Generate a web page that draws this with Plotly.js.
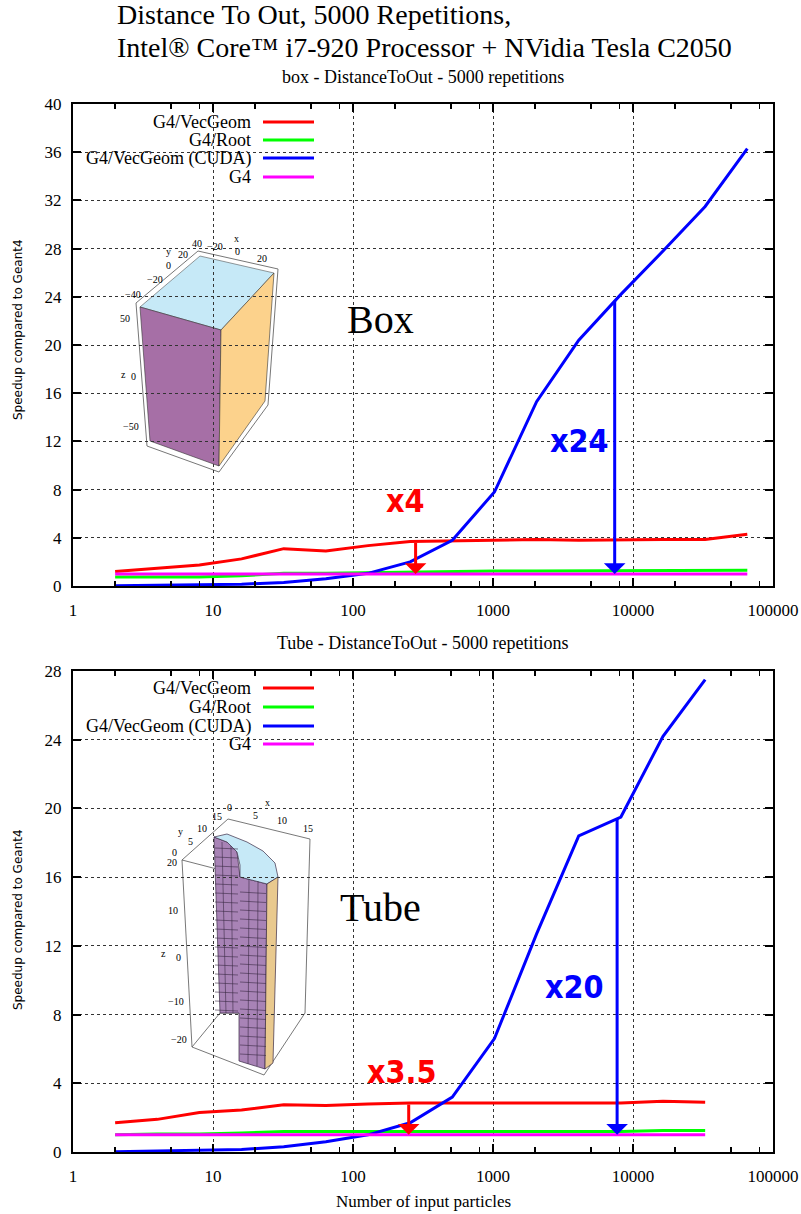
<!DOCTYPE html>
<html>
<head>
<meta charset="utf-8">
<script src="https://cdn.plot.ly/plotly-3.0.1.min.js"></script>
<style>html,body{margin:0;padding:0;background:#fff;}</style>
</head>
<body>
<div id="chart" style="width:801px;height:1214px;"></div>
<script>
// ---------------- DATA ----------------
const seriesNames = ["G4/VecGeom", "G4/Root", "G4/VecGeom (CUDA)", "G4"];
const seriesColors = ["#ff0000", "#00ff00", "#0000ff", "#ff00ff"];

const boxParticles = [2,4,8,16,32,64,128,256,512,1024,2048,4096,8192,16384,32768,65536];
const boxVecGeom   = [1.2,1.5,1.75,2.25,3.1,2.9,3.35,3.7,3.75,3.85,3.85,3.8,3.85,3.85,3.85,4.3];
const boxRoot      = [0.75,0.75,0.75,0.85,1.05,1.05,1.1,1.2,1.2,1.25,1.25,1.25,1.25,1.3,1.3,1.3];
const boxCuda      = [0.02,0.05,0.1,0.15,0.3,0.6,1.05,2.0,3.8,7.8,15.3,20.4,24.2,27.8,31.5,36.3];
const boxG4        = [1,1,1,1,1,1,1,1,1,1,1,1,1,1,1,1];

const tubeParticles = [2,4,8,16,32,64,128,256,512,1024,2048,4096,8192,16384,32768];
const tubeVecGeom   = [1.7,1.9,2.3,2.45,2.75,2.7,2.8,2.85,2.85,2.85,2.85,2.85,2.85,2.95,2.9];
const tubeRoot      = [1.0,1.05,1.05,1.1,1.2,1.2,1.2,1.2,1.2,1.2,1.2,1.2,1.2,1.25,1.25];
const tubeCuda      = [0.02,0.05,0.08,0.15,0.3,0.6,1.0,1.7,3.2,6.6,12.7,18.4,19.5,24.2,27.5];
const tubeG4        = [1,1,1,1,1,1,1,1,1,1,1,1,1,1,1];

const xTickVals  = [1,10,100,1000,10000,100000];
const xTickText  = ["1","10","100","1000","10000","100000"];
const xMinorVals = [2,5,8,20,50,80,200,500,800,2000,5000,8000,20000,50000,80000];

// speedup call-outs: [particles, from, to, label]
const boxCallouts  = [[280, 3.7, 1.0, "x4"], [7400, 23.8, 1.0, "x24"]];
const tubeCallouts = [[250, 2.85, 1.0, "x3.5"], [7700, 19.5, 1.0, "x20"]];

// ---------------- HELPERS (pixel -> paper) ----------------
const L = 73, R = 773, T = 104, B = 1152;
const px = x => (x - L) / (R - L);
const py = y => (B - y) / (B - T);
function poly(pts) {
  return 'M' + pts.map(p => px(p[0]).toFixed(5) + ',' + py(p[1]).toFixed(5)).join('L') + 'Z';
}
function segs(list) {
  return list.map(s => 'M' + px(s[0]).toFixed(5) + ',' + py(s[1]).toFixed(5) +
    'L' + px(s[2]).toFixed(5) + ',' + py(s[3]).toFixed(5)).join('');
}

const serif = "Liberation Serif, Times New Roman, serif";
const boldSans = "DejaVu Sans Condensed, DejaVu Sans, sans-serif";

// ---------------- TRACES ----------------
function mk(xs, ys, i, xa, ya) {
  return {x: xs, y: ys, type: 'scatter', mode: 'lines', name: seriesNames[i],
    xaxis: xa, yaxis: ya, showlegend: false,
    line: {color: seriesColors[i], width: 3}};
}
const traces = [
  mk(boxParticles, boxVecGeom, 0, 'x', 'y'),
  mk(boxParticles, boxRoot, 1, 'x', 'y'),
  mk(boxParticles, boxCuda, 2, 'x', 'y'),
  mk(boxParticles, boxG4, 3, 'x', 'y'),
  mk(tubeParticles, tubeVecGeom, 0, 'x2', 'y2'),
  mk(tubeParticles, tubeRoot, 1, 'x2', 'y2'),
  mk(tubeParticles, tubeCuda, 2, 'x2', 'y2'),
  mk(tubeParticles, tubeG4, 3, 'x2', 'y2'),
];

// ---------------- AXES ----------------
const tickFont = {family: serif, size: 17, color: '#000'};
function xAxis(anchor) {
  return {type: 'log', range: [0, 5], anchor: anchor, domain: [0, 1],
    tickvals: xTickVals, ticktext: xTickText, tickfont: tickFont,
    ticks: 'inside', ticklen: 8, tickwidth: 2, tickcolor: '#000',
    showline: true, linewidth: 2, linecolor: '#000', mirror: 'ticks',
    showgrid: true, gridcolor: '#333', gridwidth: 1, griddash: 'dot',
    zeroline: false, ticklabelstandoff: 8,
    minor: {tickvals: xMinorVals, ticks: 'inside', ticklen: 5, tickwidth: 1.5, tickcolor: '#000', showgrid: false}};
}
function yAxis(anchor, max, domain) {
  return {range: [0, max], dtick: 4, tick0: 0, anchor: anchor, domain: domain,
    tickfont: tickFont, ticks: 'inside', ticklen: 8, tickwidth: 2, tickcolor: '#000',
    showline: true, linewidth: 2, linecolor: '#000', mirror: 'ticks',
    showgrid: true, gridcolor: '#333', gridwidth: 1, griddash: 'dot',
    zeroline: false, ticklabelstandoff: 6};
}

// ---------------- ANNOTATIONS ----------------
const ann = [];
function txt(x, y, text, size, family, color, opts) {
  ann.push(Object.assign({xref: 'paper', yref: 'paper', x: px(x), y: py(y), text: text,
    showarrow: false, xanchor: 'center', yanchor: 'middle',
    font: {family: family, size: size, color: color || '#000'}}, opts || {}));
}
txt(115, 14, "Distance To Out, 5000 Repetitions,", 28, serif, '#000', {xanchor: 'left'});
txt(115, 47, "Intel® Core™ i7-920 Processor + NVidia Tesla C2050", 28, serif, '#000', {xanchor: 'left'});
txt(423, 77, "box - DistanceToOut - 5000 repetitions", 18, serif);
txt(423, 643, "Tube - DistanceToOut - 5000 repetitions", 18, serif);
txt(423, 1201, "Number of input particles", 17, serif);
txt(18, 330, "Speedup compared to Geant4", 12, "DejaVu Sans, sans-serif", '#000', {textangle: -90});
txt(18, 920, "Speedup compared to Geant4", 12, "DejaVu Sans, sans-serif", '#000', {textangle: -90});

// legends
const legTop = [122, 140, 158, 177], legBot = [688, 707, 726, 744];
const shapes = [];
// white masks over the grid (legend + insets)
function mask(x0, y0, x1, y1) {
  shapes.push({type: 'rect', xref: 'paper', yref: 'paper', x0: px(x0), x1: px(x1), y0: py(y1), y1: py(y0),
    fillcolor: '#fff', line: {width: 0}, layer: 'between'});
}
mask(75, 105, 322, 188);
mask(118, 226, 277, 474);
mask(75, 672, 322, 755);
mask(160, 790, 316, 1086);

seriesNames.forEach((n, i) => {
  [legTop[i], legBot[i]].forEach(yy => {
    txt(253, yy, n, 18, serif, '#000', {xanchor: 'right'});
    shapes.push({type: 'line', xref: 'paper', yref: 'paper', x0: px(263), x1: px(314), y0: py(yy), y1: py(yy),
      line: {color: seriesColors[i], width: 3}});
  });
});

// big labels
txt(380, 319, "Box", 40, serif);
txt(380, 907, "Tube", 40, serif);
txt(579, 441, "<b>" + boxCallouts[1][3] + "</b>", 32, boldSans, '#0000ff');
txt(405, 501, "<b>" + boxCallouts[0][3] + "</b>", 32, boldSans, '#ff0000');
txt(574, 987, "<b>" + tubeCallouts[1][3] + "</b>", 32, boldSans, '#0000ff');
txt(402, 1072, "<b>" + tubeCallouts[0][3] + "</b>", 32, boldSans, '#ff0000');

// arrows (data coordinates, log axis => log10)
function arrow(c, xr, yr, color) {
  ann.push({xref: xr, yref: yr, axref: xr, ayref: yr,
    x: Math.log10(c[0]), y: c[2], ax: Math.log10(c[0]), ay: c[1], text: '',
    showarrow: true, arrowhead: 1, arrowsize: 1.2, arrowwidth: 3, arrowcolor: color, standoff: 0, startstandoff: 0});
}
arrow(boxCallouts[0], 'x', 'y', '#ff0000');
arrow(boxCallouts[1], 'x', 'y', '#0000ff');
arrow(tubeCallouts[0], 'x2', 'y2', '#ff0000');
arrow(tubeCallouts[1], 'x2', 'y2', '#0000ff');

// ---------------- INSET: BOX ----------------
shapes.push({type: 'path', xref: 'paper', yref: 'paper', layer: 'between',
  path: poly([[198,251],[278,269],[268,405],[219,472],[147,446],[136,303]]),
  fillcolor: '#ffffff', line: {color: '#777', width: 1}});
shapes.push({type: 'path', xref: 'paper', yref: 'paper', layer: 'between',
  path: poly([[200,256],[274,273],[221,330],[140,307]]),
  fillcolor: '#c6e9f7', line: {color: '#555', width: 0.6}});
shapes.push({type: 'path', xref: 'paper', yref: 'paper', layer: 'between',
  path: poly([[140,307],[221,330],[219,466],[150,441]]),
  fillcolor: '#a66fa6', line: {color: '#333', width: 0.6}});
shapes.push({type: 'path', xref: 'paper', yref: 'paper', layer: 'between',
  path: poly([[221,330],[274,273],[265,401],[219,466]]),
  fillcolor: '#fcd28c', line: {color: '#333', width: 0.6}});
const small = 10;
[[197,244,"40"],[215,246,"−20"],[236,239,"x"],[237,252,"0"],[262,258,"20"],
 [168,252,"y"],[183,254,"20"],[168,265,"0"],[155,279,"−20"],[133,294,"−40"],
 [125,318,"50"],[123,374,"z"],[133,376,"0"],[131,427,"−50"]].forEach(t => txt(t[0], t[1], t[2], small, serif));

// ---------------- INSET: TUBE ----------------
shapes.push({type: 'path', xref: 'paper', yref: 'paper', layer: 'between',
  path: segs([[228,819,310,839],[228,819,182,860],[182,860,192,1047],[192,1047,264,1075],
              [264,1075,305,1013],[310,839,305,1013],[182,860,240,875],[192,1047,220,1013],[220,1013,239,1013]]),
  line: {color: '#555', width: 0.8}});
shapes.push({type: 'path', xref: 'paper', yref: 'paper', layer: 'between',
  path: poly([[214,837],[227,842],[237,852],[240,877],[267,884],[265,1069],[239,1061],[239,1013],[220,1013]]),
  fillcolor: '#a883b6', line: {color: '#3a2a45', width: 0.7}});
shapes.push({type: 'path', xref: 'paper', yref: 'paper', layer: 'between',
  path: poly([[214,837],[227,834],[247,842],[263,851],[275,863],[278,877],[267,884],[240,877],[240,865],[237,852],[227,842]]),
  fillcolor: '#c6e9f7', line: {color: '#3a2a45', width: 0.7}});
shapes.push({type: 'path', xref: 'paper', yref: 'paper', layer: 'between',
  path: poly([[267,884],[278,877],[273,1063],[265,1069]]),
  fillcolor: '#e9c98e', line: {color: '#3a2a45', width: 0.7}});
(function () {
  const g = [];
  for (let y = 892; y < 1062; y += 9) g.push([240, y, 266, y + 1.5]);
  for (let y = 848; y < 1012; y += 9) g.push([215, y, 238, y + 1]);
  g.push([249, 879, 248, 1064], [258, 881, 257, 1066], [222, 842, 226, 1013], [231, 846, 233, 1013]);
  shapes.push({type: 'path', xref: 'paper', yref: 'paper', layer: 'between',
    path: segs(g), line: {color: '#3a2a45', width: 0.6}});
})();
[[217,816,"15"],[229,807,"0"],[267,802,"x"],[255,815,"5"],[282,820,"10"],[308,828,"15"],
 [180,831,"y"],[202,828,"10"],[190,841,"5"],[174,852,"0"],[172,862,"20"],[173,910,"10"],
 [163,953,"z"],[178,957,"0"],[176,1001,"−10"],[179,1039,"−20"]].forEach(t => txt(t[0], t[1], t[2], small, serif));

// ---------------- LAYOUT ----------------
const layout = {
  width: 801, height: 1214,
  margin: {l: L, r: 801 - R, t: T, b: 1214 - B},
  paper_bgcolor: '#fff', plot_bgcolor: '#fff',
  showlegend: false,
  xaxis: xAxis('y'),
  yaxis: yAxis('x', 40, [py(586), 1]),
  xaxis2: xAxis('y2'),
  yaxis2: yAxis('x2', 28, [0, py(671)]),
  annotations: ann,
  shapes: shapes
};

Plotly.newPlot('chart', traces, layout, {displayModeBar: false, staticPlot: true});
</script>
</body>
</html>
